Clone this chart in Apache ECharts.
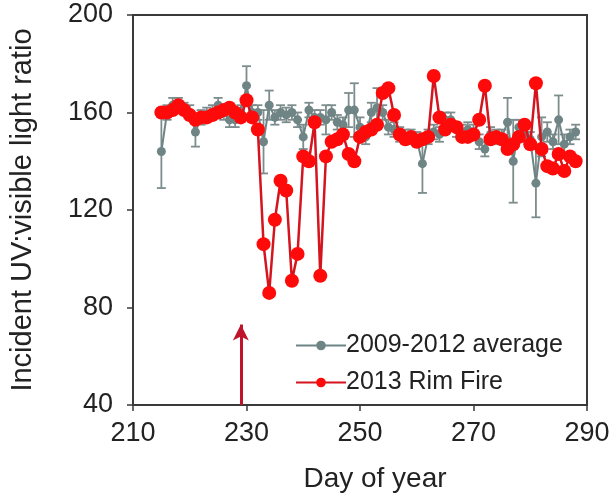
<!DOCTYPE html>
<html><head><meta charset="utf-8">
<script src="https://cdn.jsdelivr.net/npm/echarts@6/dist/echarts.min.js"></script>
<style>html,body{margin:0;padding:0;background:#fff}#c{width:615px;height:501px}</style>
</head><body><div id="c"></div>
<script>
const days = [215,216,217,218,219,220,221,222,223,224,225,226,227,228,229,230,231,232,233,234,235,236,237,238,239,240,241,242,243,244,245,246,247,248,249,250,251,252,253,254,255,256,257,258,259,260,261,262,263,264,265,266,267,268,269,270,271,272,273,274,275,276,277,278,279,280,281,282,283,284,285,286,287,288];
const avgValues = [144,160,163,163,162,160,152,158,159,160,163,160,157,157,160,171,160,160,148,163,158,160,159,160,157,150,161,158,158,157,160,156,155,161,161,154,150,160,162,160,154,153,151,150,150,149,139,150,152,151,157,157,153,152,153,152,148,145,151,150,150,156,140,154,151,149,131,150,152,148,157,147,150,152];
const avgErrors = [15,3,3,3,2,3,6,3,3,3,3,3,3,3,3,8,3,3,13,6,3,3,3,3,3,5,3,3,3,6,3,3,3,7,11,4,3,4,8,3,3,3,3,3,3,3,12,3,3,3,3,3,3,3,3,3,3,3,3,3,3,10,17,3,3,3,14,8,4,3,10,4,3,3];
const fireValues = [160,160,161,163,161,159,157,158,158,159,160,161,162,160,158,165,158,153,106,86,116,132,128,91,102,142,140,156,93,142,148,149,151,143,140,150,152,153,155,168,170,159,151,149,150,148,149,150,175,158,153,155,154,150,150,151,157,171,149,150,149,145,147,150,155,147,172,145,138,137,143,136,142,140];
const xTicks = [210, 230, 250, 270, 290];
const yTicks = [40, 80, 120, 160, 200];
const arrowDay = 229, arrowBase = 40, arrowTip = 73;
const seriesNames = ['2009-2012 average', '2013 Rim Fire'];

const FONT = '"Liberation Sans", Arial, sans-serif';
const avgData = days.map((d, i) => [d, avgValues[i]]);
const errData = days.map((d, i) => [d, avgValues[i] - avgErrors[i], avgValues[i] + avgErrors[i]]);
const fireData = days.map((d, i) => [d, fireValues[i]]);

const chart = echarts.init(document.getElementById('c'), null, {renderer: 'canvas'});
chart.setOption({
  animation: false,
  backgroundColor: '#fff',
  grid: {left: 128, right: 28, top: 15, bottom: 96, show: true, borderColor: '#3a3a3a', borderWidth: 2, backgroundColor: 'transparent'},
  legend: {
    data: seriesNames, orient: 'vertical', left: 290, top: 328,
    itemWidth: 50, itemHeight: 12, itemGap: 12,
    textStyle: {fontFamily: FONT, fontSize: 25, color: '#222', padding: [0, 0, 0, -5]}
  },
  xAxis: {
    type: 'value', min: xTicks[0], max: xTicks[xTicks.length - 1], interval: xTicks[1] - xTicks[0],
    name: 'Day of year', nameLocation: 'middle', nameGap: 60,
    nameTextStyle: {fontFamily: FONT, fontSize: 28, color: '#222', padding: [0, 0, 0, 30]},
    axisLine: {show: true, lineStyle: {color: '#3a3a3a', width: 2}},
    axisTick: {show: true, length: 6, lineStyle: {color: '#3a3a3a', width: 1.5}},
    axisLabel: {fontFamily: FONT, fontSize: 27, color: '#222', margin: 15},
    splitLine: {show: false}
  },
  yAxis: {
    type: 'value', min: yTicks[0], max: yTicks[yTicks.length - 1], interval: yTicks[1] - yTicks[0],
    name: 'Incident UV:visible light ratio', nameLocation: 'middle', nameGap: 96,
    nameTextStyle: {fontFamily: FONT, fontSize: 29, color: '#222'},
    axisLine: {show: true, lineStyle: {color: '#3a3a3a', width: 2}},
    axisTick: {show: true, length: 6, lineStyle: {color: '#3a3a3a', width: 1.5}},
    axisLabel: {fontFamily: FONT, fontSize: 27, color: '#222', margin: 20},
    splitLine: {show: false}
  },
  series: [
    {
      type: 'custom', name: 'err', z: 2, silent: true,
      data: errData,
      renderItem: function (params, api) {
        const x = api.value(0);
        const lo = api.coord([x, api.value(1)]);
        const hi = api.coord([x, api.value(2)]);
        const w = 4.5;
        const st = {stroke: '#7d8c8c', lineWidth: 1.8};
        return {type: 'group', children: [
          {type: 'line', shape: {x1: lo[0], y1: lo[1], x2: hi[0], y2: hi[1]}, style: st},
          {type: 'line', shape: {x1: lo[0] - w, y1: lo[1], x2: lo[0] + w, y2: lo[1]}, style: st},
          {type: 'line', shape: {x1: hi[0] - w, y1: hi[1], x2: hi[0] + w, y2: hi[1]}, style: st}
        ]};
      }
    },
    {
      type: 'line', name: seriesNames[0], z: 3, data: avgData,
      symbol: 'circle', symbolSize: 9, showSymbol: true,
      lineStyle: {color: '#6f8585', width: 2},
      itemStyle: {color: '#6f8585'}
    },
    {
      type: 'line', name: seriesNames[1], z: 4, data: fireData,
      symbol: 'circle', symbolSize: 14,
      lineStyle: {color: '#d4141e', width: 2.5},
      itemStyle: {color: '#ff0a0a'},
      markLine: {
        silent: true, symbol: ['none', 'arrow'], symbolSize: [12, 16],
        lineStyle: {color: '#c0142a', width: 3, type: 'solid'},
        label: {show: false},
        data: [[{coord: [arrowDay, arrowBase]}, {coord: [arrowDay, arrowTip]}]]
      }
    }
  ]
});
</script></body></html>
